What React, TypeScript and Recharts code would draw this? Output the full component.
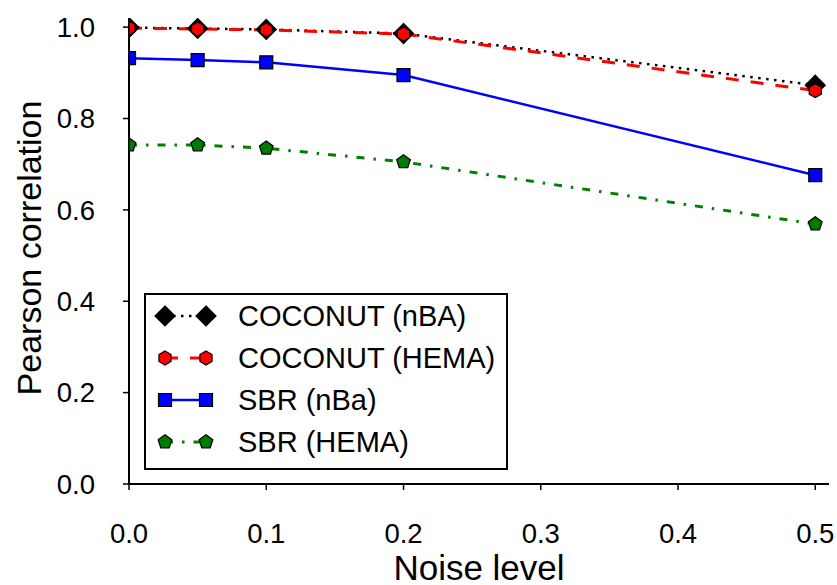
import React from 'react';
import { LineChart, Line, XAxis, YAxis, Legend } from 'recharts';

// values
const noiseLevels = [0, 0.05, 0.1, 0.2, 0.5];
const coconutNba = [0.999, 0.997, 0.995, 0.986, 0.873];
const coconutHema = [0.998, 0.996, 0.994, 0.985, 0.861];
const sbrNba = [0.932, 0.928, 0.923, 0.895, 0.676];
const sbrHema = [0.742, 0.742, 0.735, 0.705, 0.569];

const xTicks = [0, 0.1, 0.2, 0.3, 0.4, 0.5];
const yTicks = [0, 0.2, 0.4, 0.6, 0.8, 1.0];
const xDomain = [0, 0.51];

const data = noiseLevels.map((noise, i) => ({
  noise,
  coconutNba: coconutNba[i],
  coconutHema: coconutHema[i],
  sbrNba: sbrNba[i],
  sbrHema: sbrHema[i],
}));

type Shape = 'diamond' | 'hexagon' | 'square' | 'pentagon';
type Pt = [number, number];

const series: { key: string; name: string; color: string; fill: string; width: number; dash?: string; shape: Shape }[] = [
  { key: 'coconutNba', name: 'COCONUT (nBA)', color: '#000000', fill: '#000000', width: 2.5, dash: '2.5 5.5', shape: 'diamond' },
  { key: 'coconutHema', name: 'COCONUT (HEMA)', color: '#ff0000', fill: '#ff0000', width: 3, dash: '13 12', shape: 'hexagon' },
  { key: 'sbrNba', name: 'SBR (nBa)', color: '#0000ff', fill: '#0000ff', width: 2.5, shape: 'square' },
  { key: 'sbrHema', name: 'SBR (HEMA)', color: '#008000', fill: '#007a00', width: 3, dash: '8 9 2.5 9', shape: 'pentagon' },
];

const FONT = '"Liberation Sans", Arial, Helvetica, sans-serif';

const regular = (cx: number, cy: number, r: number, n: number, start: number): Pt[] => {
  const pts: Pt[] = [];
  for (let k = 0; k < n; k++) {
    const a = ((start + (360 / n) * k) * Math.PI) / 180;
    pts.push([cx + r * Math.cos(a), cy + r * Math.sin(a)]);
  }
  return pts;
};

const markerPoints = (shape: Shape, cx: number, cy: number): Pt[] => {
  switch (shape) {
    case 'diamond':
      return [[cx, cy - 10], [cx + 10, cy], [cx, cy + 10], [cx - 10, cy]];
    case 'hexagon':
      return regular(cx, cy, 7, 6, -90);
    case 'square':
      return [[cx - 6.5, cy - 6.5], [cx + 6.5, cy - 6.5], [cx + 6.5, cy + 6.5], [cx - 6.5, cy + 6.5]];
    default:
      return regular(cx, cy, 7.2, 5, -90);
  }
};

// keep only the part of a marker right of xMin (the plot's left edge)
const clipLeft = (pts: Pt[], xMin: number): Pt[] => {
  const out: Pt[] = [];
  for (let i = 0; i < pts.length; i++) {
    const p = pts[i];
    const q = pts[(i + 1) % pts.length];
    const pIn = p[0] >= xMin;
    const qIn = q[0] >= xMin;
    if (pIn) out.push(p);
    if (pIn !== qIn) {
      const t = (xMin - p[0]) / (q[0] - p[0]);
      out.push([xMin, p[1] + t * (q[1] - p[1])]);
    }
  }
  return out;
};

const toPath = (pts: Pt[]) => 'M' + pts.map((p) => `${p[0].toFixed(2)},${p[1].toFixed(2)}`).join('L') + 'Z';

// points sitting on the left edge of the plot are cut in half by the axis, as in the original
const makeDot = (shape: Shape, fill: string) => (props: any) => {
  const { cx, cy, index, payload } = props;
  if (cx == null || cy == null) return <g key={index} />;
  const onEdge = (payload && payload.noise === xDomain[0]) || index === 0;
  let pts = markerPoints(shape, cx, cy);
  if (onEdge) pts = clipLeft(pts, cx);
  return <path key={index} d={toPath(pts)} fill={fill} stroke="#000" strokeWidth={1.2} />;
};

const LegendBox = () => (
  <svg width={364} height={177} style={{ display: 'block' }}>
    <rect x={1} y={1} width={362} height={175} fill="#fff" stroke="#000" strokeWidth={2} />
    {series.map((s, i) => {
      const y = 23 + i * 42;
      return (
        <g key={s.key}>
          <line x1={21} x2={62} y1={y} y2={y} stroke={s.color} strokeWidth={s.width} strokeDasharray={s.dash} />
          <path d={toPath(markerPoints(s.shape, 21, y))} fill={s.fill} stroke="#000" strokeWidth={1.2} />
          <path d={toPath(markerPoints(s.shape, 62, y))} fill={s.fill} stroke="#000" strokeWidth={1.2} />
          <text x={94} y={y} dominantBaseline="central" fontSize={29} fontFamily={FONT} fill="#000">
            {s.name}
          </text>
        </g>
      );
    })}
  </svg>
);

const YTitle = (props: any) => {
  const { x, y, height } = props.viewBox;
  const cx = x + 29;
  const cy = y + height / 2 - 3;
  return (
    <text
      x={cx}
      y={cy}
      transform={`rotate(-90 ${cx} ${cy})`}
      textAnchor="middle"
      dominantBaseline="central"
      fontSize={34}
      fontFamily={FONT}
      fill="#000"
    >
      Pearson correlation
    </text>
  );
};

export default function App() {
  return (
    <div style={{ position: 'absolute', left: 0, top: 0, background: '#fff' }}>
      <LineChart width={837} height={585} data={data} margin={{ top: 18, right: 8, left: 0, bottom: 0 }}>
        <XAxis
          dataKey="noise"
          type="number"
          domain={xDomain}
          ticks={xTicks}
          allowDataOverflow
          height={101}
          tickSize={6}
          tickMargin={33}
          tickFormatter={(v: number) => v.toFixed(1)}
          tick={{ fill: '#000', fontSize: 27.5, fontFamily: FONT }}
          axisLine={{ stroke: '#000', strokeWidth: 2 }}
          tickLine={{ stroke: '#000', strokeWidth: 1.5 }}
          label={{ value: 'Noise level', position: 'insideBottom', offset: 5, fill: '#000', fontSize: 35, fontFamily: FONT }}
        />
        <YAxis
          type="number"
          domain={[0, 1.02]}
          ticks={yTicks}
          allowDataOverflow
          width={129}
          tickSize={6}
          tickMargin={28}
          tickFormatter={(v: number) => v.toFixed(1)}
          tick={{ fill: '#000', fontSize: 27.5, fontFamily: FONT }}
          axisLine={{ stroke: '#000', strokeWidth: 2 }}
          tickLine={{ stroke: '#000', strokeWidth: 1.5 }}
          label={YTitle}
        />
        <Legend
          layout="vertical"
          align="center"
          verticalAlign="middle"
          content={LegendBox}
          wrapperStyle={{ left: 144, top: 293, right: 'auto', bottom: 'auto', width: 364, height: 177 }}
        />
        {series.map((s) => (
          <Line
            key={s.key}
            type="linear"
            dataKey={s.key}
            name={s.name}
            stroke={s.color}
            strokeWidth={s.width}
            strokeDasharray={s.dash}
            dot={makeDot(s.shape, s.fill)}
            activeDot={false}
            isAnimationActive={false}
          />
        ))}
      </LineChart>
    </div>
  );
}
